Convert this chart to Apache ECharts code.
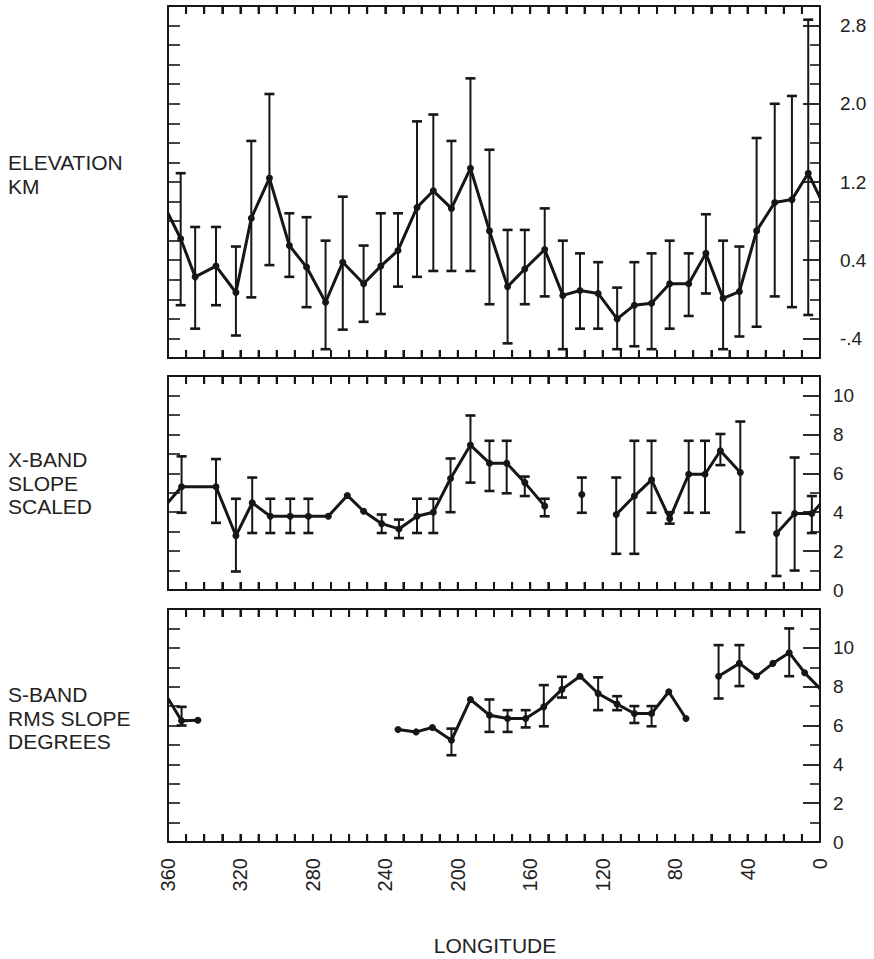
<!DOCTYPE html>
<html>
<head>
<meta charset="utf-8">
<script src="https://cdn.jsdelivr.net/npm/echarts@6/dist/echarts.min.js"></script>
<style>
  html, body { margin: 0; padding: 0; background: #fff; }
  #chart { width: 874px; height: 959px; }
</style>
</head>
<body>
<div id="chart"></div>
<script>
// ---- Elevation (km) vs longitude, with 1-sigma ranges ----
const elevLon   = [360, 353, 345, 333.5, 322.5, 314, 304, 293, 283.5, 273, 263.5, 252, 242.5, 233, 222.5, 213.5, 203.5, 193, 182.5,
                   172.5, 163, 152, 142, 132.5, 122.5, 112, 102.5, 93, 83, 72.5, 63, 53.5, 44.5, 35, 25, 15.5, 6.5, 0];
const elevVal   = [0.88, 0.62, 0.23, 0.34, 0.07, 0.83, 1.24, 0.55, 0.33, -0.03, 0.38, 0.16, 0.34, 0.50, 0.94, 1.11, 0.93, 1.34, 0.70,
                   0.13, 0.31, 0.51, 0.04, 0.09, 0.06, -0.20, -0.06, -0.04, 0.16, 0.16, 0.47, 0.01, 0.08, 0.70, 0.99, 1.02, 1.29, 1.04];
const elevErrHi = [null, 1.29, 0.74, 0.74, 0.54, 1.62, 2.10, 0.88, 0.84, 0.60, 1.05, 0.55, 0.88, 0.88, 1.82, 1.89, 1.62, 2.26, 1.53,
                   0.71, 0.71, 0.93, 0.60, 0.47, 0.38, 0.12, 0.38, 0.47, 0.60, 0.47, 0.87, 0.60, 0.54, 1.65, 2.00, 2.08, 2.86, null];
const elevErrLo = [null, -0.06, -0.30, -0.06, -0.37, 0.02, 0.35, 0.23, -0.08, -0.51, -0.31, -0.23, -0.15, 0.13, 0.23, 0.29, 0.29, 0.29, -0.05,
                   -0.45, -0.05, 0.03, -0.51, -0.30, -0.30, -0.51, -0.48, -0.51, -0.30, -0.17, 0.06, -0.51, -0.38, -0.28, 0.03, -0.08, -0.16, null];

// ---- X-band slope (scaled); a null longitude marks a gap in coverage ----
const xbandLon   = [360, 352.5, 333.5, 322.5, 313.5, 303.5, 292.5, 282.5, 271.5, 261, 252, 242, 232.5, 222.5, 213.5, 204, 193, 182.5, 173, 163, 152,
                    null, 131.5,
                    null, 112.5, 102.5, 93, 83, 72.5, 63.5, 55, 44,
                    null, 24, 14, 4.5, 0];
const xbandVal   = [4.5, 5.31, 5.31, 2.79, 4.48, 3.79, 3.79, 3.79, 3.79, 4.86, 4.05, 3.41, 3.14, 3.79, 4.0, 5.73, 7.45, 6.52, 6.52, 5.52, 4.31,
                    null, 4.91,
                    null, 3.88, 4.83, 5.66, 3.66, 5.95, 5.95, 7.16, 6.04,
                    null, 2.90, 3.93, 3.93, 4.40];
const xbandErrHi = [null, 6.87, 6.73, 4.69, 5.78, 4.69, 4.69, 4.69, null, null, null, 3.88, 3.62, 4.69, 4.69, 6.76, 8.97, 7.67, 7.67, 5.83, 4.69,
                    null, 5.78,
                    null, 5.78, 7.67, 7.67, 4.0, 7.67, 7.67, 8.02, 8.66,
                    null, 3.97, 6.81, 4.83, null];
const xbandErrLo = [null, 3.97, 3.45, 0.95, 2.93, 2.93, 2.93, 2.93, null, null, null, 2.93, 2.67, 2.93, 2.93, 4.0, 5.52, 5.09, 4.97, 4.83, 3.79,
                    null, 3.97,
                    null, 1.86, 1.86, 3.97, 3.41, 3.97, 3.97, 6.42, 2.97,
                    null, 0.72, 1.0, 2.93, null];

// ---- S-band RMS slope (degrees) ----
const sbandLon   = [360, 352.5, 343.5,
                    null, 233, 223, 214, 203.5, 193, 182.5, 172.5, 162.5, 152.5, 142.5, 132.5, 122.5, 112, 102.5, 93, 83.5, 74,
                    null, 56, 44.5, 35, 26, 17, 8.5, 0];
const sbandVal   = [7.39, 6.24, 6.27,
                    null, 5.79, 5.67, 5.90, 5.24, 7.34, 6.53, 6.36, 6.36, 6.96, 7.86, 8.54, 7.65, 7.10, 6.62, 6.62, 7.74, 6.36,
                    null, 8.54, 9.20, 8.54, 9.20, 9.75, 8.72, 7.90];
const sbandErrHi = [null, 6.96, null,
                    null, null, null, null, 5.84, null, 7.34, 6.79, 6.79, 8.08, 8.51, null, 8.48, 7.51, 7.0, 7.0, null, null,
                    null, 10.14, 10.14, null, null, 11.0, null, null];
const sbandErrLo = [null, 6.0, null,
                    null, null, null, null, 4.47, null, 5.67, 5.67, 5.90, 5.96, 7.44, null, 6.79, 6.79, 6.13, 5.96, null, null,
                    null, 7.39, 8.03, null, null, 8.54, null, null];

// ---- Axis ticks and labels ----
const lonTickStep = 10;
const lonLabelValues = [0, 40, 80, 120, 160, 200, 240, 280, 320, 360];
const elevLabelValues = [-0.4, 0.4, 1.2, 2.0, 2.8];
const elevLabelTexts  = ['-.4', '0.4', '1.2', '2.0', '2.8'];
const xbandLabelValues = [0, 2, 4, 6, 8, 10];
const sbandLabelValues = [0, 2, 4, 6, 8, 10];
const panelNames = ['ELEVATION\nKM', 'X-BAND\nSLOPE\nSCALED', 'S-BAND\nRMS SLOPE\nDEGREES'];
const xTitle = 'LONGITUDE';

const INK = '#161616';
const FONT = '"Liberation Sans", Arial, Helvetica, sans-serif';

function range(a, b, step) {
  const out = [];
  for (let v = a; v <= b + 1e-9; v += step) out.push(Math.round(v * 100) / 100);
  return out;
}
function without(list, drop) {
  return list.filter(v => !drop.some(d => Math.abs(d - v) < 1e-6));
}
function segments(lon, val) {
  const segs = []; let cur = [];
  lon.forEach((l, i) => {
    if (l === null) { if (cur.length) segs.push(cur); cur = []; }
    else cur.push([l, val[i]]);
  });
  if (cur.length) segs.push(cur);
  return segs;
}
function errorData(lon, lo, hi) {
  const out = [];
  lon.forEach((l, i) => { if (l !== null && hi[i] != null && lo[i] != null) out.push([l, lo[i], hi[i]]); });
  return out;
}

// three stacked panels sharing the longitude scale; the frame comes from the axis lines
const grids = [
  { left: 168, right: 54, top: 6,   height: 352 },
  { left: 168, right: 54, top: 376, height: 214 },
  { left: 168, right: 54, top: 609, height: 233 }
].map(g => Object.assign(g, { show: false }));

const frameLine = { show: true, onZero: false, lineStyle: { color: INK, width: 2 } };
const hiddenLine = { show: false, onZero: false };
const xTick = { show: true, inside: true, length: 8, lineStyle: { color: INK, width: 2 } };
const xAxes = [];
grids.forEach((g, i) => {
  xAxes.push({
    type: 'value', gridIndex: i, min: 0, max: 360, interval: lonTickStep, inverse: true, position: 'bottom',
    axisLine: frameLine, splitLine: { show: false }, axisTick: xTick,
    axisLabel: i === 2
      ? { show: true, customValues: lonLabelValues, rotate: 90, margin: 16, fontSize: 20, color: '#222', fontFamily: FONT }
      : { show: false }
  });
  xAxes.push({
    type: 'value', gridIndex: i, min: 0, max: 360, interval: lonTickStep, inverse: true, position: 'top',
    axisLine: frameLine, splitLine: { show: false }, axisTick: xTick,
    axisLabel: { show: false }
  });
});

const panelY = [
  { min: -0.6, max: 3.0, minorStep: 0.2, minorFrom: -0.4, minorTo: 2.8, labels: elevLabelValues, texts: elevLabelTexts, margin: 20 },
  { min: 0, max: 11, minorStep: 1, minorFrom: 1, minorTo: 10, labels: xbandLabelValues, texts: null, margin: 13 },
  { min: 0, max: 12, minorStep: 1, minorFrom: 1, minorTo: 11, labels: sbandLabelValues, texts: null, margin: 13 }
];
const yAxes = [];
panelY.forEach((p, i) => {
  const all = range(p.minorFrom, p.minorTo, p.minorStep);
  // left side: frame line and short ticks at every step
  yAxes.push({
    type: 'value', gridIndex: i, min: p.min, max: p.max, position: 'left',
    axisLine: frameLine, splitLine: { show: false }, axisLabel: { show: false },
    axisTick: { show: true, inside: true, length: 12, customValues: all, lineStyle: { color: INK, width: 1.6 } }
  });
  // right side: frame line, long ticks and labels
  yAxes.push({
    type: 'value', gridIndex: i, min: p.min, max: p.max, position: 'right',
    axisLine: frameLine, splitLine: { show: false },
    axisTick: { show: true, inside: true, length: 17, customValues: p.labels.filter(v => v > p.min && v < p.max), lineStyle: { color: INK, width: 1.8 } },
    axisLabel: {
      show: true, customValues: p.labels, margin: p.margin, fontSize: 19, color: '#222', fontFamily: FONT,
      formatter: v => {
        if (!p.texts) return String(v);
        const k = p.labels.findIndex(t => Math.abs(t - v) < 1e-6);
        return k >= 0 ? p.texts[k] : '';
      }
    }
  });
  // right side: short ticks between labels
  yAxes.push({
    type: 'value', gridIndex: i, min: p.min, max: p.max, position: 'right',
    axisLine: hiddenLine, splitLine: { show: false }, axisLabel: { show: false },
    axisTick: { show: true, inside: true, length: 10, customValues: without(all, p.labels), lineStyle: { color: INK, width: 1.6 } }
  });
});

// longitude ticks along the top and bottom edges of each panel, every 10 degrees
const lonTicks = range(lonTickStep, 360 - lonTickStep, lonTickStep);
function lonTickSeries(i) {
  const p = panelY[i];
  return {
    type: 'custom', xAxisIndex: i * 2, yAxisIndex: i * 3 + 1, z: 5, clip: false, silent: true,
    data: lonTicks.map(v => [v, p.min, p.max]),
    encode: { x: 0, y: [1, 2] },
    renderItem: (params, api) => {
      const bot = api.coord([api.value(0), api.value(1)]);
      const top = api.coord([api.value(0), api.value(2)]);
      const len = 8;
      const st = { stroke: INK, lineWidth: 2 };
      return {
        type: 'group',
        children: [
          { type: 'line', shape: { x1: top[0], y1: top[1], x2: top[0], y2: top[1] + len }, style: st },
          { type: 'line', shape: { x1: bot[0], y1: bot[1], x2: bot[0], y2: bot[1] - len }, style: st }
        ]
      };
    }
  };
}

function errorSeries(data, i) {
  return {
    type: 'custom', xAxisIndex: i * 2, yAxisIndex: i * 3 + 1, data: data, z: 3,
    clip: true,
    encode: { x: 0, y: [1, 2] },
    renderItem: (params, api) => {
      const x = api.value(0);
      const lo = api.coord([x, api.value(1)]);
      const hi = api.coord([x, api.value(2)]);
      const cap = 5;
      return {
        type: 'group',
        children: [
          { type: 'line', shape: { x1: lo[0], y1: lo[1], x2: hi[0], y2: hi[1] }, style: { stroke: INK, lineWidth: 2 } },
          { type: 'line', shape: { x1: hi[0] - cap, y1: hi[1], x2: hi[0] + cap, y2: hi[1] }, style: { stroke: INK, lineWidth: 2.6 } },
          { type: 'line', shape: { x1: lo[0] - cap, y1: lo[1], x2: lo[0] + cap, y2: lo[1] }, style: { stroke: INK, lineWidth: 2.6 } }
        ]
      };
    }
  };
}
function lineSeries(seg, i) {
  return {
    type: 'line', xAxisIndex: i * 2, yAxisIndex: i * 3 + 1, data: seg, z: 4,
    symbol: 'circle',
    symbolSize: v => (v[0] === 0 || v[0] === 360) ? 0 : 7,
    showSymbol: true, clip: true, animation: false,
    lineStyle: { color: INK, width: 3 },
    itemStyle: { color: INK }
  };
}

const series = [];
[
  [elevLon, elevVal, elevErrLo, elevErrHi],
  [xbandLon, xbandVal, xbandErrLo, xbandErrHi],
  [sbandLon, sbandVal, sbandErrLo, sbandErrHi]
].forEach(([lon, val, lo, hi], i) => {
  series.push(lonTickSeries(i));
  series.push(errorSeries(errorData(lon, lo, hi), i));
  segments(lon, val).forEach(seg => series.push(lineSeries(seg, i)));
});

const nameTops = [150, 448, 683];
const graphic = panelNames.map((t, i) => ({
  type: 'text', left: 8, top: nameTops[i],
  style: { text: t, fontSize: 21, fontFamily: FONT, fill: '#222', lineHeight: i === 0 ? 24 : 23.5 }
}));
graphic.push({
  type: 'text', x: 495, y: 945,
  style: { text: xTitle, fontSize: 21, fontFamily: FONT, fill: '#222', align: 'center', verticalAlign: 'middle' }
});

const chart = echarts.init(document.getElementById('chart'), null, { renderer: 'svg' });
chart.setOption({
  backgroundColor: '#fff',
  animation: false,
  grid: grids,
  xAxis: xAxes,
  yAxis: yAxes,
  series: series,
  graphic: graphic
});
</script>
</body>
</html>
